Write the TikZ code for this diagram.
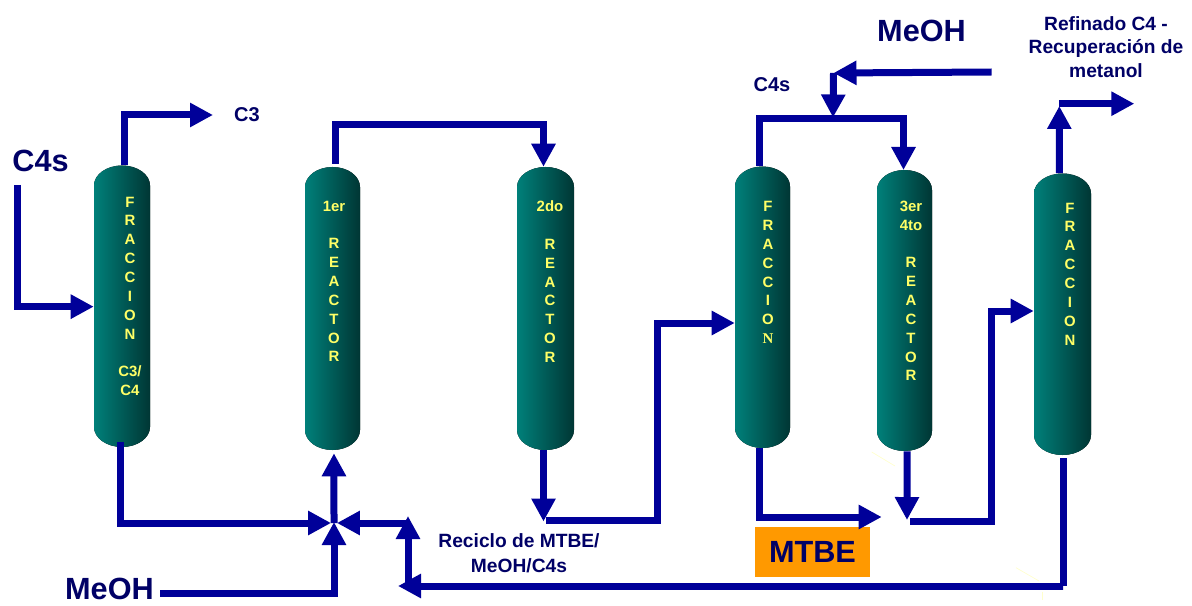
\documentclass[tikz,border=0pt]{standalone}
\usepackage{fontspec}
\setmainfont{Liberation Sans}
\newfontfamily\serifn{Liberation Serif}
\usetikzlibrary{arrows.meta}
\definecolor{flowblue}{HTML}{000099}
\definecolor{labelblue}{HTML}{000066}
\definecolor{tealhi}{HTML}{00807A}
\definecolor{tealmid}{HTML}{006E69}
\definecolor{tealdk}{HTML}{003634}
\definecolor{vtextyellow}{HTML}{FFFF66}
\definecolor{mtbeorange}{HTML}{FF9900}
\definecolor{strayyellow}{HTML}{FFFFCC}

\begin{document}
\begin{tikzpicture} [x=0.75pt, y=-0.75pt,
	vessel/.style = {left color=tealhi, middle color=tealmid, right color=tealdk},
	vtext/.style = {text=vtextyellow, anchor=north, align=center, inner sep=0pt, font=\bfseries\fontsize{11.2}{14.15}\selectfont},
	flow/.style = {draw=flowblue, line width=5.25pt},
	flowtip/.style = {flow, -{Triangle[length=17.25pt,width=17.25pt]}},
	biglabel/.style = {text=labelblue, inner sep=0pt, font=\bfseries\fontsize{23}{27}\selectfont},
	smalllabel/.style = {text=labelblue, inner sep=0pt, align=center, font=\bfseries\fontsize{15}{17.6}\selectfont}]
\useasboundingbox (0,0) rectangle (1192,606);
\newcommand{\fraccion}{F\\R\\A\\C\\C\\I\\O}
\newcommand{\reactor}{R\\E\\A\\C\\T\\O\\R}
% columns
\foreach \n/\xl/\xr/\yt/\yb in {1/94/150/165.5/447, 2/305/360/167/450, 3/517/574/167/450, 4/735/790/166.5/448, 5/877/932/170/451, 6/1034/1091/173.5/455} {
	\pgfmathsetmacro{\vrx}{(\xr-\xl)*0.375}
	\pgfmathsetmacro{\vw}{(\xr-\xl)*0.75}
	\pgfmathsetmacro{\vh}{(\yb-\yt)*0.75}
	\fill[vessel] (\xl,\yt+20) arc[start angle=180, end angle=0, x radius=\vrx pt, y radius=15pt] -- (\xr,\yb-20) arc[start angle=0, end angle=-180, x radius=\vrx pt, y radius=15pt] -- cycle;
	\node[inner sep=0pt, minimum width=\vw pt, minimum height=\vh pt] (\n) at ({(\xl+\xr)/2},{(\yt+\yb)/2}) {};
}
\node[vtext] (t1) at (130,196.5) {\fraccion\\N\\[14.15pt]C3/\\C4};
\node[vtext] (t2) at (334,200.5) {1er\\[14.15pt]\reactor};
\node[vtext] (t3) at (550,200.5) {2do\\[14.15pt]\reactor};
\node[vtext] (t4) at (768,201) {\fraccion\\{\serifn N}};
\node[vtext] (t5) at (911,200.5) {3er\\4to\\[14.15pt]\reactor};
\node[vtext] (t6) at (1070,202.5) {\fraccion\\N};
% labels
\node[biglabel] (c4a) at (40.5,161) {C4s};
\node[biglabel] (meoha) at (109.5,589) {MeOH};
\node[biglabel] (meohb) at (921.5,31) {MeOH};
\node[smalllabel] (c3) at (247,115) {C3};
\node[smalllabel] (c4b) at (772,85) {C4s};
\node[smalllabel, font=\bfseries\fontsize{14.4}{17.6}\selectfont] (refinado) at (1106,47) {Refinado C4 -\\Recuperación de\\metanol};
\node[smalllabel, font=\bfseries\fontsize{14.4}{18.75}\selectfont] (reciclo) at (519,553) {Reciclo de MTBE/\\MeOH/C4s};
\node[fill=mtbeorange, text=labelblue, inner sep=0pt, minimum width=86.7pt, minimum height=37.5pt, font=\bfseries\fontsize{23}{27}\selectfont] (mtbe) at (812.5,552.3) {MTBE};
% junctions
\coordinate (mix) at (334,523);
\coordinate (c3end) at (213,115);
\coordinate (c4start) at (17.5,185);
\coordinate (bus1) at (335.3,124.5);
\coordinate (recycle) at (1063,586);
\coordinate (rise) at (408,586);
\coordinate (tee) at (833,117.5);
\coordinate (meohstart) at (991.7,72);
\coordinate (meohturn) at (833.5,73);
\coordinate (refturn) at (1059.3,103.7);
\coordinate (refend) at (1134.3,103.7);
\coordinate (mtbeend) at (881.7,517);
\coordinate (foot3) at (543.5,521.5);
\coordinate (foot5) at (907,520);
% streams
\draw[flowtip] (c4start) |- ([yshift=-0.3pt]1.west);
\draw[flowtip] ([xshift=1.9pt]1.north) |- (c3end);
\draw[flowtip] ([xshift=-1.5pt,yshift=3.75pt]1.south) |- ([xshift=-2.2pt]mix);
\draw[flowtip] (mix) -- ([xshift=1.1pt,yshift=-2.25pt]2.south);
\draw[flowtip] ([xshift=4.5pt]meoha.east |- 0,593) -| ([yshift=0.75pt]mix);
\draw[flowtip] ([xshift=2.0pt,yshift=2.25pt]2.north) |- ([xshift=-1.5pt]bus1 -| 3.north) -- ([xshift=-1.5pt]3.north);
\draw[flowtip] ([xshift=-1.5pt]3.south) -- (foot3);
\draw[flowtip] ([xshift=1.5pt,yshift=0.75pt]foot3) -| (657,323) -- (4.west |- 657,323);
\draw[flowtip] (recycle -| 6.south) -- (recycle) -- (398,586);
\draw[flow] ([xshift=0.4pt]6.south |- 0,458) -- ([xshift=0.4pt]6.south |- recycle);
\draw[flowtip] (rise) -- (408,516);
\draw[flowtip] (406.7,523) -- ([xshift=2.2pt]mix);
\draw[flowtip] ([xshift=-2.6pt]4.south) |- (mtbeend);
\draw[flowtip] ([xshift=1.9pt]5.south) -- (foot5);
\draw[flowtip] ([xshift=2.2pt,yshift=-0.75pt]foot5) -| (991,311) -- (6.west |- 991,311);
\draw[flowtip] ([xshift=-2.6pt]4.north) |- (903.5,118.5) -- (903.5,170);
\draw[flowtip] (meohstart) -- (meohturn);
\draw[flowtip] (meohturn) -- (tee);
\draw[flowtip] ([xshift=-2.4pt]6.north) -- (refturn |- 0,106);
\draw[flowtip] (refturn) -- (refend);
% stray marks
\foreach \xa/\ya/\xb/\yb in {871.7/452/895/466, 1016/567.7/1039/581, 1042/591.7/1042/600} {
	\draw[strayyellow, line width=0.5pt] (\xa,\ya) -- (\xb,\yb);
}
\end{tikzpicture}
\end{document}
